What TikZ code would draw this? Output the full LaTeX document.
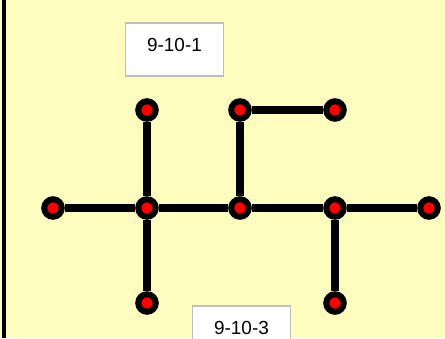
\documentclass[tikz,border=0pt]{standalone}
\usepackage{fontspec}
\setmainfont{Liberation Sans}
\usepackage{xcolor}
\usepackage{tikz}
\usetikzlibrary{positioning}
\definecolor{paper}{RGB}{255,252,192}
\definecolor{frame}{RGB}{190,190,190}
\tikzstyle{dot} = [circle, draw=black, fill=red, line width=6bp, minimum size=17.5bp, inner sep=0pt]
\tikzstyle{bar} = [line width=7.2bp, black]
\tikzstyle{tag} = [rectangle, draw=frame, fill=white, line width=1.5bp, minimum width=98bp, minimum height=53bp, text depth=10bp, font=\fontsize{19}{22}\selectfont]

\begin{document}
\begin{tikzpicture}[x=1bp, y=1bp]
    \useasboundingbox (0,0) rectangle (445,338);
    \clip (0,0) rectangle (445,338);
    \fill[paper] (0,0) rectangle (445,338);
    \fill[black] (2,0) rectangle (6,338);
    % labels
    \node[tag] (lab1) at (174.5,288.5) {9-10-1};
    \node[tag] (lab3) at (241.5,5.5) {9-10-3};
    % middle row
    \foreach \i/\x in {1/53,2/147,3/240,4/335,5/429} {
        \node[dot] (m\i) at (\x,130) {};
    }
    \node[dot] (t2) at (147,228) {};
    \node[dot] (t3) at (240,228) {};
    \node[dot] (t4) at (335,228) {};
    \node[dot] (b2) at (147,35) {};
    \node[dot] (b4) at (335,35) {};
    % connections
    \foreach \i/\j in {1/2,2/3,3/4,4/5} {
        \draw[bar] (m\i) -- (m\j);
    }
    \draw[bar] (t2) -- (m2);
    \draw[bar] (m2) -- (b2);
    \draw[bar] (t3) -- (m3);
    \draw[bar] (t3) -- (t4);
    \draw[bar] (m4) -- (b4);
\end{tikzpicture}
\end{document}
